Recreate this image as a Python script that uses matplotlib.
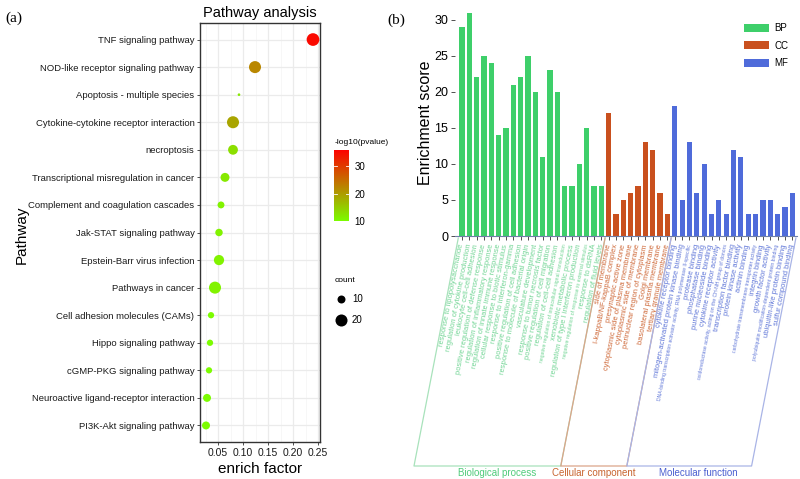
import numpy as np
import matplotlib
matplotlib.use("Agg")
import matplotlib.pyplot as plt
from matplotlib.colors import LinearSegmentedColormap, Normalize
from matplotlib.lines import Line2D
from matplotlib.patches import Patch
from matplotlib.transforms import IdentityTransform

plt.rcParams['font.family'] = ['Liberation Sans', 'DejaVu Sans']

# ---------------- Panel (a) data ----------------
pathways = ["TNF signaling pathway", "NOD-like receptor signaling pathway",
            "Apoptosis - multiple species", "Cytokine-cytokine receptor interaction",
            "necroptosis", "Transcriptional misregulation in cancer",
            "Complement and coagulation cascades", "Jak-STAT signaling pathway",
            "Epstein-Barr virus infection", "Pathways in cancer",
            "Cell adhesion molecules (CAMs)", "Hippo signaling pathway",
            "cGMP-PKG signaling pathway", "Neuroactive ligand-receptor interaction",
            "PI3K-Akt signaling pathway"]
enrich = [0.240, 0.124, 0.092, 0.080, 0.080, 0.064, 0.056, 0.052, 0.052, 0.044,
          0.036, 0.034, 0.032, 0.028, 0.026]
counts = [22, 20, 3, 20, 14, 12, 8, 9, 15, 20, 7, 7, 7, 10, 10]
logp = [35, 22, 12, 19, 13, 12, 11, 11, 11, 11, 10, 10, 10, 10, 10]
x_ticks_a = [0.05, 0.10, 0.15, 0.20, 0.25]
cbar_ticks = [10, 20, 30]
size_legend = [10, 20]

# ---------------- Panel (b) data ----------------
bp_terms = ["response to lipopolysaccharide", "regulation of cytokine production",
            "leukocyte cell-cell adhesion", "positive regulation of defense response",
            "regulation of inflammatory response", "regulation of innate immune response",
            "cellular response to biotic stimulus", "response to interferon-gamma",
            "positive regulation of cell adhesion", "response to molecule of bacterial origin",
            "vasculature development", "response to tumor necrosis factor",
            "positive regulation of cell migration", "regulation of cell-cell adhesion",
            "negative regulation of intracellular signal transduction",
            "xenobiotic metabolic process", "regulation of type I interferon production",
            "negative regulation of response to external stimulus",
            "response to dsRNA", "regulation of fluid levels"]
bp_vals = [29, 31, 22, 25, 24, 14, 15, 21, 22, 25, 20, 11, 23, 20, 7, 7, 10, 15, 7, 7]
cc_terms = ["side of membrane", "I-kappaB/NF-kappaB complex", "presynaptic active zone",
            "cytoplasmic side of plasma membrane", "cytoplasmic side of membrane",
            "perinuclear region of cytoplasm", "Golgi membrane",
            "basolateral plasma membrane", "tertiary granule membrane"]
cc_vals = [17, 3, 5, 6, 7, 13, 12, 6, 3]
mf_terms = ["cytokine receptor binding", "mitogen-activated protein kinase binding",
            "DNA-binding transcription activator activity, RNA polymerase II-specific",
            "protease binding", "phosphatase binding", "purine nucleoside binding",
            "cytokine receptor activity",
            "oxidoreductase activity, acting on the CH-NH group of donors",
            "transcription factor binding", "protein kinase activity", "actinin binding",
            "carbohydrate transmembrane transporter activity", "integrin binding",
            "growth factor activity", "polyubiquitin modification-dependent protein binding",
            "ubiquitin-like protein binding", "sulfur compound binding"]
mf_vals = [18, 5, 13, 6, 10, 3, 5, 3, 12, 11, 3, 3, 5, 5, 3, 4, 6]
groups = ["BP", "CC", "MF"]
group_names = ["Biological process", "Cellular component", "Molecular function"]
y_ticks_b = [0, 5, 10, 15, 20, 25, 30]

W, H = 800, 479
fig = plt.figure(figsize=(W / 100, H / 100), dpi=100)

def px_axes(l, t, r, b):
    return fig.add_axes([l / W, 1 - b / H, (r - l) / W, (b - t) / H])

# ---------------- Panel (a) ----------------
ax = px_axes(200, 23, 320, 442)
cmap = LinearSegmentedColormap.from_list("gr", ["#7CFC00", "#FF0000"])
norm = Normalize(vmin=10, vmax=36)
ypos = np.arange(len(pathways))[::-1]

def size_of(c):
    return np.maximum(4.2 * np.asarray(c, float) - 9, 3)

ax.set_xlim(0.014, 0.254)
ax.set_ylim(-0.6, len(pathways) - 0.4)
ax.set_xticks(x_ticks_a)
ax.set_xticklabels([f"{v:.2f}" for v in x_ticks_a])
ax.set_xticks([0.025, 0.075, 0.125, 0.175, 0.225], minor=True)
ax.grid(True, which='major', color='#EBEBEB', lw=0.9, zorder=0)
ax.grid(True, which='minor', axis='x', color='#F4F4F4', lw=0.5, zorder=0)
ax.set_axisbelow(True)
ax.scatter(enrich, ypos, s=size_of(counts), c=logp, cmap=cmap, norm=norm,
           edgecolors='none', zorder=3)
ax.set_yticks(ypos)
ax.set_yticklabels(pathways, fontsize=6.8, color='#1a1a1a')
ax.tick_params(axis='both', which='major', length=2.5, width=0.6, color='#333333',
               pad=1.5)
ax.tick_params(axis='x', labelsize=7.5, labelcolor='#1a1a1a')
ax.tick_params(axis='x', which='minor', length=0)
for s in ax.spines.values():
    s.set_color('#333333'); s.set_linewidth(1.0)
ax.set_title("Pathway analysis", fontsize=10.5, pad=4)
ax.set_xlabel("enrich factor", fontsize=11, labelpad=3)
fig.text(22 / W, 1 - 235 / H, "Pathway", rotation=90, fontsize=11,
         ha='center', va='center')
fig.text(5 / W, 1 - 18 / H, "(a)", fontsize=11, family='Liberation Serif',
         ha='left', va='center')

# colorbar
cax = px_axes(334, 150, 349, 221)
grad = np.linspace(norm.vmin, norm.vmax, 256).reshape(-1, 1)
cax.imshow(grad, aspect='auto', cmap=cmap, norm=norm, origin='lower',
           extent=[0, 1, norm.vmin, norm.vmax])
cax.set_xticks([])
cax.yaxis.tick_right()
cax.set_yticks(cbar_ticks)
cax.set_yticklabels([str(t) for t in cbar_ticks], fontsize=7)
cax.tick_params(axis='y', length=0, pad=4)
for t in cbar_ticks:
    cax.plot([0, 0.2], [t, t], color='white', lw=0.6)
    cax.plot([0.8, 1], [t, t], color='white', lw=0.6)
cax.set_ylim(norm.vmin, norm.vmax)
cax.set_xlim(0, 1)
for s in cax.spines.values():
    s.set_visible(False)
fig.text(335 / W, 1 - 143 / H, "-log10(pvalue)", fontsize=6, ha='left', va='center')

# size legend
fig.text(335 / W, 1 - 281 / H, "count", fontsize=6, ha='left', va='center')
for c, yy in zip(size_legend, [299, 320]):
    fig.add_artist(Line2D([341 / W], [1 - yy / H], marker='o', linestyle='none',
                          markersize=np.sqrt(size_of(c)), color='black',
                          markeredgewidth=0, transform=fig.transFigure))
    fig.text(352 / W, 1 - yy / H, str(c), fontsize=7, ha='left', va='center')

# ---------------- Panel (b) ----------------
bx = px_axes(455, 9, 797, 236)
colors = {"BP": "#3ECF6A", "CC": "#C9501E", "MF": "#4F6BDA"}
label_colors = {"BP": "#72d595", "CC": "#cf6a3a", "MF": "#6077d8"}
bracket_colors = {"BP": "#a8e2bb", "CC": "#dba58a", "MF": "#a9b4e6"}
all_terms = bp_terms + cc_terms + mf_terms
all_vals = bp_vals + cc_vals + mf_vals
all_groups = ["BP"] * len(bp_vals) + ["CC"] * len(cc_vals) + ["MF"] * len(mf_vals)
xs = np.arange(len(all_vals))
bx.bar(xs, all_vals, width=0.72, color=[colors[g] for g in all_groups], zorder=2)
bx.set_xlim(-0.95, len(all_vals) - 0.35)
bx.set_ylim(0, 31.5)
bx.set_yticks(y_ticks_b)
bx.tick_params(axis='y', labelsize=9, length=3, width=0.6, color='#333333', pad=2)
bx.set_xticks(xs)
bx.set_xticklabels([])
bx.tick_params(axis='x', length=3, width=0.6, color='#333333')
for side in ['top', 'right']:
    bx.spines[side].set_visible(False)
bx.spines['left'].set_visible(False)
bx.spines['bottom'].set_color('#6f7fa8')
bx.spines['bottom'].set_linewidth(0.8)
bx.set_ylabel("Enrichment score", fontsize=11.5, labelpad=1)
fig.text(387 / W, 1 - 20 / H, "(b)", fontsize=11, family='Liberation Serif',
         ha='left', va='center')

handles = [Patch(facecolor=colors[g], label=g) for g in groups]
leg = bx.legend(handles=handles, loc='upper right', bbox_to_anchor=(1.0, 0.975),
                frameon=False, fontsize=7, handlelength=2.6, handleheight=0.9,
                labelspacing=0.75, handletextpad=0.5)

# rotated category labels
ang = 79
for x, term, g in zip(xs, all_terms, all_groups):
    fs = 3.6 if len(term) > 45 else 5.4
    bx.annotate(term, xy=(x, 0), xycoords='data', xytext=(0, -6),
                textcoords='offset points', rotation=ang, rotation_mode='anchor',
                ha='right', va='center', fontsize=fs, color=label_colors[g],
                annotation_clip=False)

# brackets in pixel coordinates
fig.canvas.draw()
y_top = H - 238
y_bot = H - 466
dx = (y_top - y_bot) / np.tan(np.radians(ang))
bounds = [(-0.5, len(bp_vals) - 0.5),
          (len(bp_vals) - 0.5, len(bp_vals) + len(cc_vals) - 0.5),
          (len(bp_vals) + len(cc_vals) - 0.5, len(all_vals) - 0.5)]
name_colors = {"BP": "#4fcb7a", "CC": "#c8642f", "MF": "#4a5fd0"}
name_shift = {"BP": 10, "CC": 0, "MF": 9}
for g, name, (b0, b1) in zip(groups, group_names, bounds):
    x0 = bx.transData.transform((b0, 0))[0]
    x1 = bx.transData.transform((b1, 0))[0]
    xs_line = [x0, x0 - dx, x1 - dx, x1]
    ys_line = [y_top, y_bot, y_bot, y_top]
    fig.add_artist(Line2D(xs_line, ys_line, color=bracket_colors[g], lw=0.9,
                          transform=IdentityTransform()))
    cx = ((x0 - dx) + (x1 - dx)) / 2 + name_shift[g]
    fig.text(cx / W, (H - 473) / H, name, fontsize=7, color=name_colors[g],
             ha='center', va='center')

fig.savefig("out.png", dpi=100)
